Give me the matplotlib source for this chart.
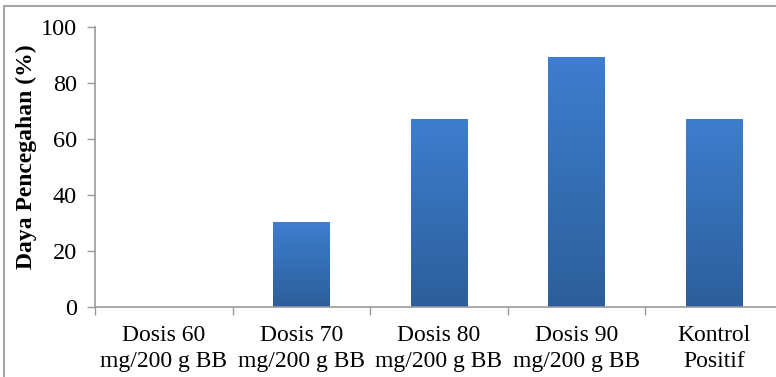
import numpy as np
import matplotlib
matplotlib.use("Agg")
import matplotlib.pyplot as plt
from matplotlib.colors import LinearSegmentedColormap
from matplotlib.patches import Rectangle

# data
kategori = ["Dosis 60\nmg/200 g BB", "Dosis 70\nmg/200 g BB", "Dosis 80\nmg/200 g BB",
            "Dosis 90\nmg/200 g BB", "Kontrol\nPositif"]
daya = [0, 30, 67, 89, 67]
y_ticks = [0, 20, 40, 60, 80, 100]

plt.rcParams["font.family"] = ["Liberation Serif", "DejaVu Serif"]

fig = plt.figure(figsize=(7.76, 3.77), dpi=100)
ax = fig.add_axes([95 / 776, 1 - 307 / 377, (782.5 - 95) / 776, 280 / 377])

# gradient bars
cmap = LinearSegmentedColormap.from_list("biru", ["#2d5e9b", "#3d7ece"])
grad = np.linspace(0, 1, 256).reshape(-1, 1)
lebar = 0.41
x = np.arange(len(kategori))
for xi, v in zip(x, daya):
    if v <= 0:
        continue
    ax.imshow(grad, cmap=cmap, origin="lower", aspect="auto",
              extent=(xi - lebar / 2, xi + lebar / 2, 0, v), zorder=2)

ax.set_xlim(-0.5, len(kategori) - 0.5)
ax.set_ylim(0, 100)
ax.set_yticks(y_ticks)
ax.set_yticklabels([str(t) for t in y_ticks], fontsize=17.5)
ax.tick_params(axis="y", length=6, width=1, color="#999999", pad=7)

# category labels in the middle, ticks on the boundaries
ax.set_xticks(np.arange(len(kategori) + 1) - 0.5)
ax.set_xticklabels([])
ax.set_xticks(x, minor=True)
ax.set_xticklabels(kategori, minor=True, fontsize=17, linespacing=1.3)
ax.tick_params(axis="x", which="major", length=6, width=1, color="#999999")
ax.tick_params(axis="x", which="minor", length=0, pad=13)

for s in ["top", "right"]:
    ax.spines[s].set_visible(False)
for s in ["left", "bottom"]:
    ax.spines[s].set_color("#999999")
    ax.spines[s].set_linewidth(1.2)

ax.set_ylabel("Daya Pencegahan (%)", fontsize=17, fontweight="bold")
ax.yaxis.set_label_coords(-0.084, 0.536)

# outer frame
fig.patches.append(Rectangle((4 / 776, -0.05), 1.1, 1 - 6 / 377 + 0.05,
                             transform=fig.transFigure, fill=False,
                             edgecolor="#a6a6a6", linewidth=1.5))

fig.savefig("out.png", dpi=100)
